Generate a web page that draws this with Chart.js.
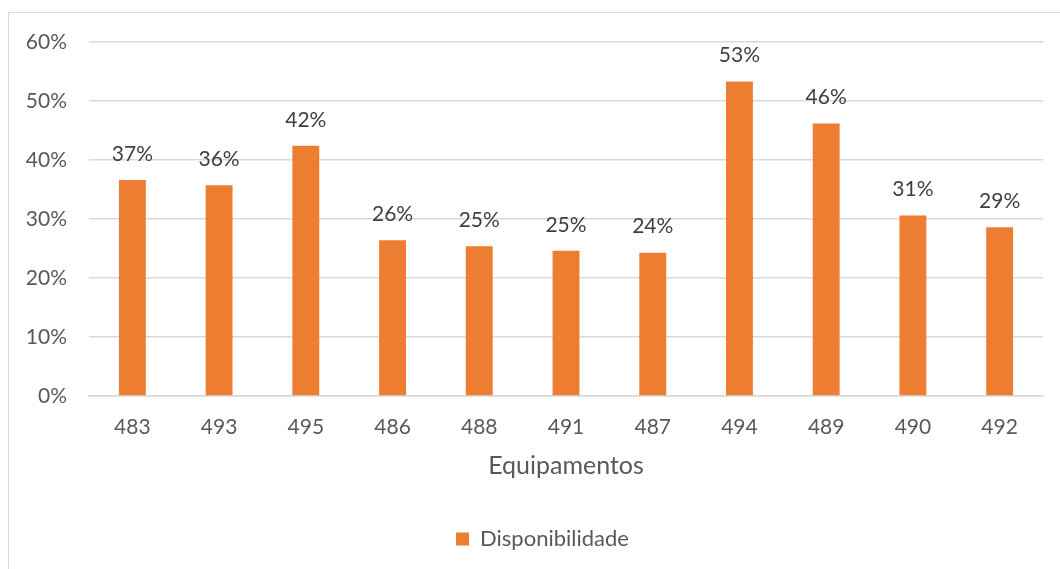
<!DOCTYPE html>
<html>
<head>
<meta charset="utf-8">
<script src="https://cdn.jsdelivr.net/npm/chart.js@4"></script>
<style>
  html, body { margin: 0; padding: 0; background: #fff; overflow: hidden; }
  #frame { position: absolute; left: 8px; top: 12px; width: 1200px; height: 700px; border: 1.5px solid #d9d9d9; }
  #wrap { position: absolute; left: 0; top: 0; width: 1060px; height: 569px; }
</style>
</head>
<body>
<div id="frame"></div>
<div id="wrap"><canvas id="chart"></canvas></div>
<script>
const equipamentos = ['483', '493', '495', '486', '488', '491', '487', '494', '489', '490', '492'];
const disponibilidade = [36.6, 35.7, 42.4, 26.4, 25.4, 24.6, 24.3, 53.3, 46.2, 30.6, 28.6];

const FONT = 'Lato, "Open Sans", sans-serif';

// labels above each bar
const barLabels = {
  id: 'barLabels',
  afterDatasetsDraw(chart) {
    const ctx = chart.ctx;
    const meta = chart.getDatasetMeta(0);
    ctx.save();
    ctx.font = '21px ' + FONT;
    ctx.fillStyle = '#404040';
    ctx.textAlign = 'center';
    ctx.textBaseline = 'middle';
    meta.data.forEach((bar, i) => {
      ctx.fillText(Math.round(disponibilidade[i]) + '%', bar.x, bar.y - 26);
    });
    ctx.restore();
  }
};

// legend sits a bit right of centre in the original
const shiftLegend = {
  id: 'shiftLegend',
  afterLayout(chart) {
    chart.legend.left += 21;
    chart.legend.right += 21;
  }
};

const ctx = document.getElementById('chart').getContext('2d');
const chart = new Chart(ctx, {
  type: 'bar',
  data: {
    labels: equipamentos,
    datasets: [{
      label: 'Disponibilidade',
      data: disponibilidade,
      backgroundColor: '#ED7D31',
      categoryPercentage: 1,
      barPercentage: 0.31,
    }]
  },
  options: {
    responsive: true,
    maintainAspectRatio: false,
    animation: false,
    layout: { padding: { top: 42, right: 17, left: 0, bottom: 9 } },
    plugins: {
      tooltip: { enabled: false },
      legend: {
        position: 'bottom',
        labels: {
          boxWidth: 13,
          boxHeight: 13,
          padding: 10,
          color: '#595959',
          font: { family: FONT, size: 22 },
        }
      }
    },
    scales: {
      x: {
        grid: { display: false, drawTicks: false },
        border: { color: '#d9d9d9', width: 1.5 },
        ticks: { color: '#595959', padding: 19, font: { family: FONT, size: 21 } },
        title: {
          display: true,
          text: 'Equipamentos',
          color: '#595959',
          font: { family: FONT, size: 25 },
          padding: { top: 4, bottom: 37 }
        },
        afterFit(scale) { scale.height = 122; }
      },
      y: {
        min: 0,
        max: 60,
        ticks: {
          stepSize: 10,
          padding: 22,
          color: '#595959',
          font: { family: FONT, size: 21 },
          callback: (v) => v + '%'
        },
        grid: { color: '#d9d9d9', lineWidth: 1.5, drawTicks: false },
        border: { display: false },
        afterFit(scale) { scale.width = 89; }
      }
    }
  },
  plugins: [barLabels, shiftLegend]
});
</script>
</body>
</html>
